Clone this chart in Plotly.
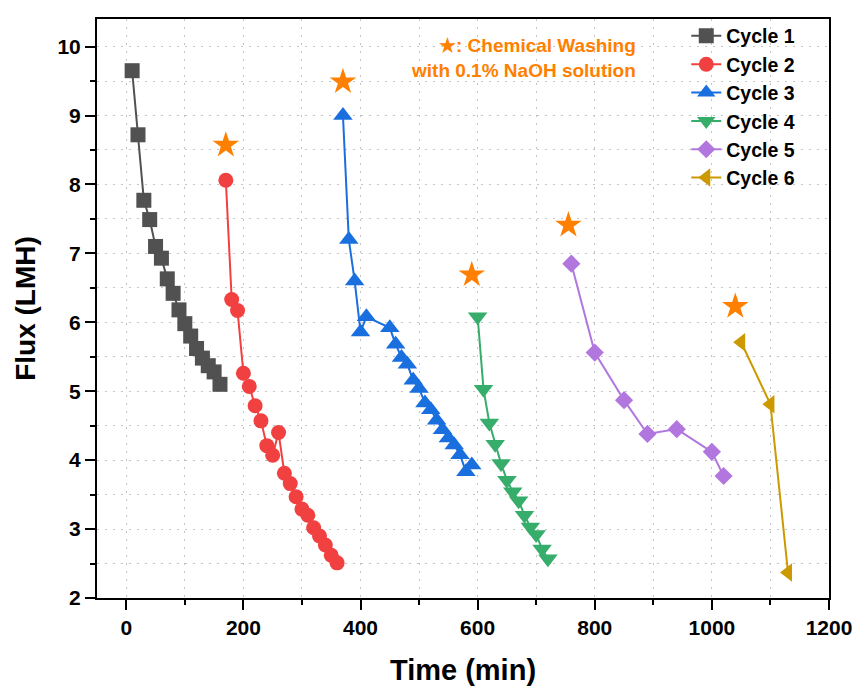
import plotly.graph_objects as go

# Flux decline over six filtration cycles (time in min, flux in LMH)
cycle1_t = [10, 20, 30, 40, 50, 60, 70, 80, 90, 100, 110, 120, 130, 140, 150, 160]
cycle1_f = [9.65, 8.72, 7.77, 7.49, 7.10, 6.93, 6.63, 6.42, 6.18, 5.98, 5.80, 5.62, 5.48, 5.37, 5.28, 5.10]

cycle2_t = [170, 180, 190, 200, 210, 220, 230, 240, 250, 260, 270, 280, 290, 300, 310, 320, 330, 340, 350, 360]
cycle2_f = [8.06, 6.33, 6.17, 5.26, 5.07, 4.79, 4.57, 4.21, 4.07, 4.40, 3.81, 3.66, 3.47, 3.29, 3.20, 3.02, 2.90, 2.77, 2.62, 2.51]

cycle3_t = [370, 380, 390, 400, 410, 450, 460, 470, 480, 490, 500, 510, 520, 530, 540, 550, 560, 570, 580, 590]
cycle3_f = [9.00, 7.20, 6.60, 5.86, 6.08, 5.92, 5.68, 5.49, 5.39, 5.16, 5.04, 4.83, 4.73, 4.58, 4.44, 4.32, 4.22, 4.08, 3.83, 3.93]

cycle4_t = [600, 610, 620, 630, 640, 650, 660, 670, 680, 690, 700, 710, 720]
cycle4_f = [6.08, 5.03, 4.54, 4.23, 3.95, 3.71, 3.54, 3.41, 3.20, 3.03, 2.92, 2.71, 2.57]

cycle5_t = [760, 800, 850, 890, 940, 1000, 1020]
cycle5_f = [6.85, 5.56, 4.87, 4.38, 4.45, 4.12, 3.77]

cycle6_t = [1050, 1100, 1130]
cycle6_f = [5.71, 4.81, 2.37]

# Chemical washing events (NaOH)
wash_t = [170, 370, 590, 755, 1040]
wash_f = [8.57, 9.49, 6.69, 7.41, 6.23]

names = ["Cycle 1", "Cycle 2", "Cycle 3", "Cycle 4", "Cycle 5", "Cycle 6"]
colors = ["#515151", "#F14040", "#1A6FDF", "#37AD6B", "#B177DE", "#CC9900"]
symbols = ["square", "circle", "triangle-up", "triangle-down", "diamond", "triangle-left"]
sizes = [15, 15, 17, 17, 14, 16]
series = [(cycle1_t, cycle1_f), (cycle2_t, cycle2_f), (cycle3_t, cycle3_f),
          (cycle4_t, cycle4_f), (cycle5_t, cycle5_f), (cycle6_t, cycle6_f)]

FONT = "Liberation Sans, Arial, sans-serif"
ORANGE = "#FF8000"
GRID = "#c4c4c4"

fig = go.Figure()
for (t, f), name, c, s, sz in zip(series, names, colors, symbols, sizes):
    fig.add_trace(go.Scatter(
        x=t, y=f, name=name, mode="lines+markers",
        line=dict(color=c, width=2),
        marker=dict(symbol=s, size=sz, color=c, line=dict(width=0)),
    ))

fig.add_trace(go.Scatter(
    x=wash_t, y=wash_f, mode="markers", showlegend=False,
    marker=dict(symbol="star", size=20, color=ORANGE, line=dict(width=0)),
))

fig.add_annotation(
    x=874, y=9.84, xref="x", yref="y", xanchor="right", yanchor="middle",
    text="★: Chemical Washing<br>with 0.1% NaOH solution",
    showarrow=False, align="right",
    font=dict(family=FONT, size=19, color=ORANGE, weight="bold"),
)

axis_common = dict(
    showline=True, linecolor="black", linewidth=2, mirror=True,
    ticks="outside", ticklen=10, tickwidth=2, tickcolor="black",
    showgrid=True, gridcolor=GRID, gridwidth=1, griddash="2px,6px",
    zeroline=False, automargin=False,
    tickfont=dict(family=FONT, size=21, color="black", weight="bold"),
)

fig.update_xaxes(
    **axis_common,
    range=[-50, 1200], tick0=0, dtick=200,
    minor=dict(dtick=100, tick0=0, ticks="outside", ticklen=5, tickwidth=2,
               tickcolor="black", showgrid=True, gridcolor=GRID, griddash="2px,6px"),
    title=dict(text="Time (min)", standoff=21,
               font=dict(family=FONT, size=29, color="black", weight="bold")),
)
fig.update_yaxes(
    **axis_common,
    range=[2, 10.4], tick0=2, dtick=1,
    minor=dict(dtick=0.5, tick0=2, ticks="outside", ticklen=5, tickwidth=2,
               tickcolor="black", showgrid=True, gridcolor=GRID, griddash="2px,6px"),
    title=dict(text="Flux (LMH)", standoff=14,
               font=dict(family=FONT, size=28, color="black", weight="bold")),
)

fig.update_layout(
    width=854, height=689,
    margin=dict(l=97, r=25, t=19, b=91),
    plot_bgcolor="white", paper_bgcolor="white",
    legend=dict(
        x=0.805, y=1.004, xanchor="left", yanchor="top",
        bgcolor="rgba(0,0,0,0)", borderwidth=0,
        font=dict(family=FONT, size=19.5, color="black", weight="bold"),
        tracegroupgap=0, itemwidth=30,
    ),
)

fig.write_html("out.html")
